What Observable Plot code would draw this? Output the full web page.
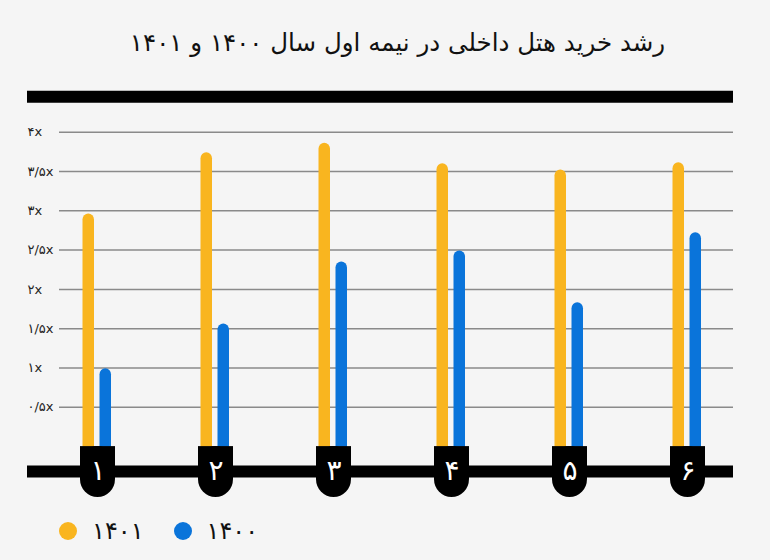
<!DOCTYPE html>
<html>
<head>
<meta charset="utf-8">
<script src="https://cdn.jsdelivr.net/npm/d3@7"></script>
<script src="https://cdn.jsdelivr.net/npm/@observablehq/plot@0.6"></script>
<style>
  html, body { margin: 0; padding: 0; }
  body { background: #f5f5f5; width: 770px; height: 560px; overflow: hidden; position: relative; font-family: "DejaVu Sans", sans-serif; }
  #title { height: 80px; line-height: 86px; text-align: center; font-size: 24.5px; color: #111; direction: rtl; padding-left: 25px; box-sizing: border-box; }
  #chart svg { display: block; }
  #legend { position: absolute; top: 517px; left: 59px; display: flex; align-items: center; direction: ltr; }
  .item { display: flex; align-items: center; margin-right: 30px; }
  .sw { width: 18px; height: 18px; border-radius: 50%; margin-right: 15px; }
  .lab { font-size: 24px; color: #111; line-height: 28px; }
</style>
</head>
<body>
<div id="title">رشد خرید هتل داخلی در نیمه اول سال ۱۴۰۰ و ۱۴۰۱</div>
<div id="chart"></div>
<div id="legend"></div>
<script>
const categories = ["۱", "۲", "۳", "۴", "۵", "۶"];
const series = ["۱۴۰۱", "۱۴۰۰"];
const values1401 = [2.96, 3.74, 3.86, 3.60, 3.52, 3.61];
const values1400 = [0.99, 1.56, 2.35, 2.49, 1.83, 2.72];
const yTicks = [0.5, 1, 1.5, 2, 2.5, 3, 3.5, 4];
const yTickLabels = ["۰/۵x", "۱x", "۱/۵x", "۲x", "۲/۵x", "۳x", "۳/۵x", "۴x"];
const colors = ["#f9b51f", "#0a74da"];

const rows = categories.map((c, i) => ({cat: c, v1401: values1401[i], v1400: values1400[i]}));

const chart = Plot.plot({
  width: 770,
  height: 425,
  marginLeft: 27,
  marginRight: 37,
  marginTop: 51.7,
  marginBottom: 58.9,
  style: {background: "transparent", fontFamily: "DejaVu Sans, sans-serif", overflow: "visible"},
  x: {type: "band", domain: categories, range: [37, 748], paddingInner: 0.7, paddingOuter: 0.35, axis: null},
  y: {domain: [0, 4], axis: null},
  marks: [
    Plot.ruleY(yTicks, {stroke: "#8a8a8a", strokeWidth: 1.5, insetLeft: 32}),
    Plot.axisY(yTicks, {tickSize: 0, tickPadding: 0, textAnchor: "start", tickFormat: d => yTickLabels[yTicks.indexOf(d)], fontSize: 13, fill: "#222", label: null}),
    Plot.ruleY([4], {stroke: "#000", strokeWidth: 12, dy: -35.5}),
    Plot.barY(rows, {x: "cat", y: "v1401", fill: colors[0], insetLeft: 2.5, insetRight: 21, insetBottom: -8, rx: 6}),
    Plot.barY(rows, {x: "cat", y: "v1400", fill: colors[1], insetLeft: 19.5, insetRight: 4, insetBottom: -8, rx: 6}),
    Plot.ruleY([0], {stroke: "#000", strokeWidth: 12, dy: 25}),
    Plot.barY(categories, {x: d => d, y1: 0, y2: 0, insetBottom: -51, rx: 18, fill: "#000"}),
    Plot.barY(categories, {x: d => d, y1: 0, y2: 0, insetBottom: -26, fill: "#000"}),
    Plot.text(categories, {x: d => d, y: 0, dy: 24, text: d => d, fill: "white", fontSize: 28, fontWeight: "normal"})
  ]
});
document.getElementById("chart").appendChild(chart);

const legend = document.getElementById("legend");
series.forEach((s, i) => {
  const it = document.createElement("div");
  it.className = "item";
  it.innerHTML = `<span class="sw" style="background:${colors[i]}"></span><span class="lab">${s}</span>`;
  legend.appendChild(it);
});
</script>
</body>
</html>
